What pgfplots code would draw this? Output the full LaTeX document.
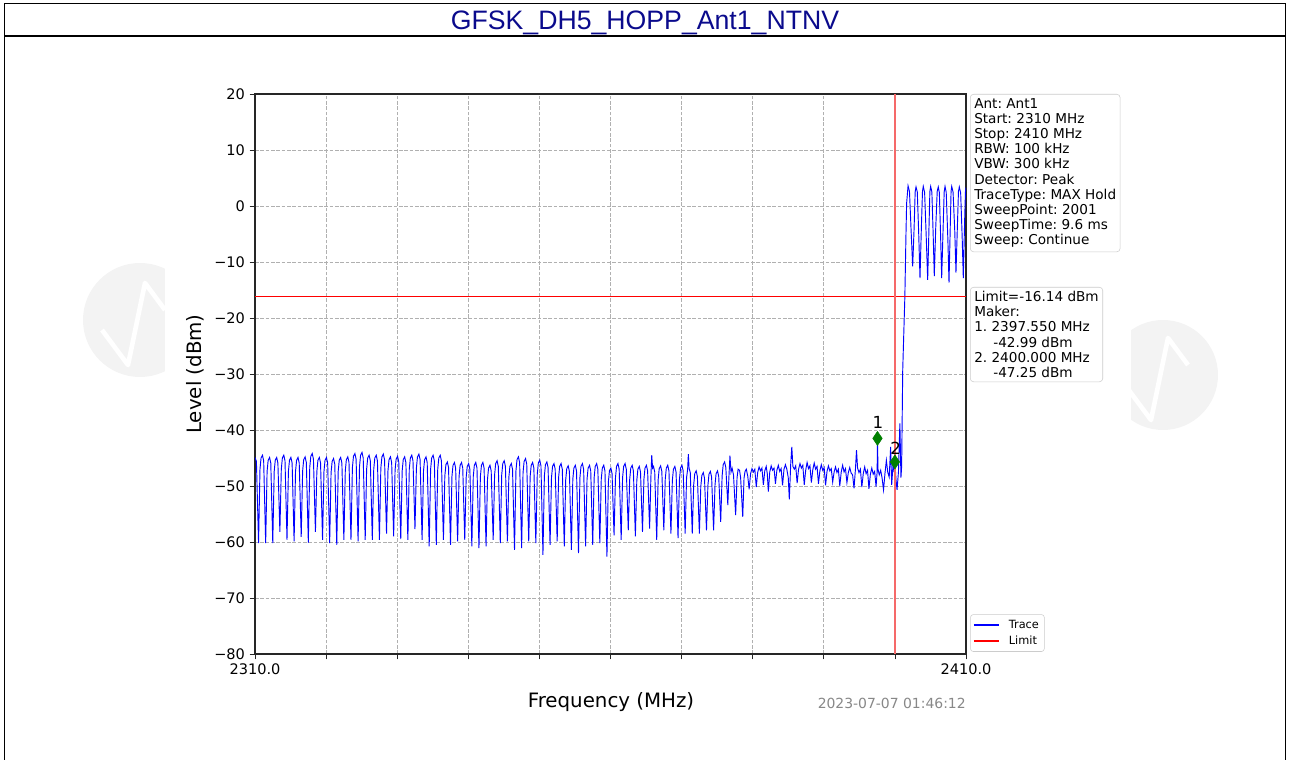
\documentclass[border=0pt]{standalone}
\usepackage{pgfplots}
\pgfplotsset{compat=1.18}
\usepackage{fontspec}
\setmainfont{DejaVu Sans}
\newfontfamily\arialfont{Liberation Sans}
\frenchspacing
\definecolor{titleblue}{RGB}{10,10,140}
\definecolor{mgreen}{RGB}{0,128,0}
\definecolor{boxgray}{RGB}{204,204,204}
\definecolor{gridgray}{RGB}{176,176,176}
\definecolor{wm}{RGB}{243,243,243}
\definecolor{dategray}{RGB}{136,136,136}
\definecolor{limred}{RGB}{255,0,0}
\definecolor{vred}{RGB}{245,105,105}
\definecolor{trblue}{RGB}{0,0,255}
\begin{document}
\begin{tikzpicture}
\useasboundingbox (0,0) rectangle (967.5pt,570pt);
% faint watermarks
\fill[wm] (105pt,330pt) circle (42.75pt);
\fill[wm] (872.25pt,288.75pt) circle (41.25pt);
\draw[white, line width=3.5pt, line join=round] (76.5pt,322.5pt) -- (96pt,296.25pt) -- (108.75pt,357.75pt) -- (123.75pt,337.5pt);
\draw[white, line width=3.5pt, line join=round] (843.75pt,281.25pt) -- (863.25pt,255pt) -- (876pt,316.5pt) -- (891pt,296.25pt);
\fill[white] (123.75pt,0pt) rectangle (848.25pt,540pt);
% frame
\draw[line width=1.3pt] (3.4pt,0pt) -- (3.4pt,567.4pt) -- (964.1pt,567.4pt) -- (964.1pt,0pt);
\draw[line width=1.3pt] (3.4pt,543pt) -- (964.1pt,543pt);
\node[font=\arialfont\fontsize{20}{24}\selectfont, text=titleblue, anchor=base] at (483.75pt,547.5pt) {GFSK\_DH5\_HOPP\_Ant1\_NTNV};
\begin{axis}[
  at={(191.25pt,79.5pt)}, anchor=south west,
  width=533.25pt, height=420pt, scale only axis,
  xmin=2310, xmax=2410, ymin=-80, ymax=20,
  xtick={2310,2320,...,2410},
  xticklabels={2310.0,,,,,,,,,,2410.0},
  ytick={-80,-70,...,20},
  yticklabels={−80,−70,−60,−50,−40,−30,−20,−10,0,10,20},
  tick pos=left, tick align=outside,
  major tick length=4pt,
  tick style={black!85, line width=0.6pt},
  xmajorgrids, ymajorgrids,
  grid style={gridgray, dash pattern=on 2.8pt off 1.2pt, line width=0.5pt},
  axis line style={black!85, line width=0.8pt},
  ticklabel style={font=\fontsize{10.9}{13}\selectfont},
  legend style={at={(1.006,0.004)}, anchor=south west, draw=boxgray, rounded corners=2pt,
    font=\fontsize{8.5}{10}\selectfont, inner sep=2pt, legend cell align=left,
    /tikz/every odd column/.append style={column sep=5pt}},
  legend image code/.code={\draw[#1] (0pt,0pt) -- (18.75pt,0pt);},
]
\addlegendimage{color=trblue, line width=1pt}
\addlegendentry{Trace}
\addlegendimage{color=limred, line width=1pt}
\addlegendentry{Limit}
\addplot[color=trblue, line width=0.7pt, forget plot] coordinates {
(2310.0,-44.9) (2310.2,-45.6)
(2310.5,-60.2) (2310.7,-47.0) (2310.85,-45.0) (2311.05,-44.5) (2311.22,-45.5)
(2311.5,-60.2) (2311.7,-47.4) (2311.85,-45.4) (2312.05,-44.9) (2312.22,-45.9)
(2312.5,-60.2) (2312.7,-47.4) (2312.85,-45.4) (2313.05,-44.9) (2313.22,-45.9)
(2313.5,-58.2) (2313.7,-47.0) (2313.85,-45.0) (2314.05,-44.5) (2314.22,-45.5)
(2314.5,-59.6) (2314.7,-47.4) (2314.85,-45.4) (2315.05,-44.9) (2315.22,-45.9)
(2315.5,-59.9) (2315.7,-47.4) (2315.85,-45.4) (2316.05,-44.9) (2316.22,-45.9)
(2316.5,-59.1) (2316.7,-47.3) (2316.85,-45.3) (2317.05,-44.8) (2317.22,-45.8)
(2317.5,-60.1) (2317.7,-46.7) (2317.85,-44.7) (2318.05,-44.2) (2318.22,-45.2)
(2318.5,-58.2) (2318.7,-47.4) (2318.85,-45.4) (2319.05,-44.9) (2319.22,-45.9)
(2319.5,-59.6) (2319.7,-47.4) (2319.85,-45.4) (2320.05,-44.9) (2320.22,-45.9)
(2320.5,-60.2) (2320.7,-47.6) (2320.85,-45.6) (2321.05,-45.1) (2321.22,-46.1)
(2321.5,-60.5) (2321.7,-47.4) (2321.85,-45.4) (2322.05,-44.9) (2322.22,-45.9)
(2322.5,-59.6) (2322.7,-47.3) (2322.85,-45.3) (2323.05,-44.8) (2323.22,-45.8)
(2323.5,-59.6) (2323.7,-46.7) (2323.85,-44.7) (2324.05,-44.2) (2324.22,-45.2)
(2324.5,-59.9) (2324.7,-46.5) (2324.85,-44.5) (2325.05,-44.0) (2325.22,-45.0)
(2325.5,-59.6) (2325.7,-47.0) (2325.85,-45.0) (2326.05,-44.5) (2326.22,-45.5)
(2326.5,-59.6) (2326.7,-47.0) (2326.85,-45.0) (2327.05,-44.5) (2327.22,-45.5)
(2327.5,-59.6) (2327.7,-46.8) (2327.85,-44.8) (2328.05,-44.3) (2328.22,-45.3)
(2328.5,-58.5) (2328.7,-47.3) (2328.85,-45.3) (2329.05,-44.8) (2329.22,-45.8)
(2329.5,-59.0) (2329.7,-47.2) (2329.85,-45.2) (2330.05,-44.7) (2330.22,-45.7)
(2330.5,-59.5) (2330.7,-47.3) (2330.85,-45.3) (2331.05,-44.8) (2331.22,-45.8)
(2331.5,-59.6) (2331.7,-47.0) (2331.85,-45.0) (2332.05,-44.5) (2332.22,-45.5)
(2332.5,-57.7) (2332.7,-46.8) (2332.85,-44.8) (2333.05,-44.3) (2333.22,-45.3)
(2333.5,-59.6) (2333.7,-47.3) (2333.85,-45.3) (2334.05,-44.8) (2334.22,-45.8)
(2334.5,-60.8) (2334.7,-47.0) (2334.85,-45.0) (2335.05,-44.5) (2335.22,-45.5)
(2335.5,-60.5) (2335.7,-47.0) (2335.85,-45.0) (2336.05,-44.5) (2336.22,-45.5)
(2336.5,-59.6) (2336.7,-48.2) (2336.85,-46.2) (2337.05,-45.7) (2337.22,-46.7)
(2337.5,-60.5) (2337.7,-48.3) (2337.85,-46.3) (2338.05,-45.8) (2338.22,-46.8)
(2338.5,-59.9) (2338.7,-48.3) (2338.85,-46.3) (2339.05,-45.8) (2339.22,-46.8)
(2339.5,-59.6) (2339.7,-48.5) (2339.85,-46.5) (2340.05,-46.0) (2340.22,-47.0)
(2340.5,-60.8) (2340.7,-48.3) (2340.85,-46.3) (2341.05,-45.8) (2341.22,-46.8)
(2341.5,-61.1) (2341.7,-48.3) (2341.85,-46.3) (2342.05,-45.8) (2342.22,-46.8)
(2342.5,-60.8) (2342.7,-48.8) (2342.85,-46.8) (2343.05,-46.3) (2343.22,-47.3)
(2343.5,-59.6) (2343.7,-48.0) (2343.85,-46.0) (2344.05,-45.5) (2344.22,-46.5)
(2344.5,-60.2) (2344.7,-48.0) (2344.85,-46.0) (2345.05,-45.5) (2345.22,-46.5)
(2345.5,-59.9) (2345.7,-48.5) (2345.85,-46.5) (2346.05,-46.0) (2346.22,-47.0)
(2346.5,-61.4) (2346.7,-47.3) (2346.85,-45.3) (2347.05,-44.8) (2347.22,-45.8)
(2347.5,-61.1) (2347.7,-47.6) (2347.85,-45.6) (2348.05,-45.1) (2348.22,-46.1)
(2348.5,-59.9) (2348.7,-48.3) (2348.85,-46.3) (2349.05,-45.8) (2349.22,-46.8)
(2349.5,-60.2) (2349.7,-47.9) (2349.85,-45.9) (2350.05,-45.4) (2350.22,-46.4)
(2350.5,-62.3) (2350.7,-48.2) (2350.85,-46.2) (2351.05,-45.7) (2351.22,-46.7)
(2351.5,-60.5) (2351.7,-48.5) (2351.85,-46.5) (2352.05,-46.0) (2352.22,-47.0)
(2352.5,-59.9) (2352.7,-48.5) (2352.85,-46.5) (2353.05,-46.0) (2353.22,-47.0)
(2353.5,-60.8) (2353.7,-48.9) (2353.85,-46.9) (2354.05,-46.4) (2354.22,-47.4)
(2354.5,-61.4) (2354.7,-48.8) (2354.85,-46.8) (2355.05,-46.3) (2355.22,-47.3)
(2355.5,-62.0) (2355.7,-48.5) (2355.85,-46.5) (2356.05,-46.0) (2356.22,-47.0)
(2356.5,-60.8) (2356.7,-48.8) (2356.85,-46.8) (2357.05,-46.3) (2357.22,-47.3)
(2357.5,-60.5) (2357.7,-48.5) (2357.85,-46.5) (2358.05,-46.0) (2358.22,-47.0)
(2358.5,-60.2) (2358.7,-48.8) (2358.85,-46.8) (2359.05,-46.3) (2359.22,-47.3)
(2359.5,-62.6) (2359.7,-49.3) (2359.85,-47.3) (2360.05,-46.8) (2360.22,-47.8)
(2360.5,-58.8) (2360.7,-48.5) (2360.85,-46.5) (2361.05,-46.0) (2361.22,-47.0)
(2361.5,-59.6) (2361.7,-48.5) (2361.85,-46.5) (2362.05,-46.0) (2362.22,-47.0)
(2362.5,-57.9) (2362.7,-48.8) (2362.85,-46.8) (2363.05,-46.3) (2363.22,-47.3)
(2363.5,-59.0) (2363.7,-49.0) (2363.85,-47.0) (2364.05,-46.5) (2364.22,-47.5)
(2364.5,-58.2) (2364.7,-48.8) (2364.85,-46.8) (2365.05,-46.3) (2365.22,-47.3)
(2365.5,-57.6) (2365.68,-48.5) (2365.8,-44.5) (2365.92,-46.8) (2366.05,-46.5) (2366.22,-47.5)
(2366.5,-59.6) (2366.7,-48.9) (2366.85,-46.9) (2367.05,-46.4) (2367.22,-47.4)
(2367.5,-57.9) (2367.7,-48.8) (2367.85,-46.8) (2368.05,-46.3) (2368.22,-47.3)
(2368.5,-58.5) (2368.7,-49.0) (2368.85,-47.0) (2369.05,-46.5) (2369.22,-47.5)
(2369.5,-59.3) (2369.7,-48.8) (2369.85,-46.8) (2370.05,-46.3) (2370.22,-47.3)
(2370.5,-58.5) (2370.7,-48.5) (2370.85,-47.0) (2370.95,-44.3) (2371.05,-46.8) (2371.22,-47.6)
(2371.5,-58.5) (2371.7,-49.8) (2371.85,-47.8) (2372.05,-47.3) (2372.22,-48.3)
(2372.5,-58.5) (2372.7,-50.1) (2372.85,-48.1) (2373.05,-47.6) (2373.22,-48.6)
(2373.5,-57.9) (2373.7,-49.9) (2373.85,-47.9) (2374.05,-47.4) (2374.22,-48.4)
(2374.5,-57.9) (2374.7,-49.8) (2374.85,-47.8) (2375.05,-47.3) (2375.22,-48.3)
(2375.5,-56.4) (2375.7,-48.2) (2375.85,-46.2) (2376.05,-45.7) (2376.22,-46.7)
(2376.5,-53.4) (2376.65,-48.5) (2376.8,-44.6) (2376.95,-47.5) (2377.1,-46.8) (2377.3,-48.0)
(2377.6,-55.2) (2377.8,-48.5) (2377.95,-47.0) (2378.15,-47.2) (2378.3,-48.5)
(2378.6,-55.5) (2378.78,-48.6) (2378.92,-47.4) (2379.10,-47.0) (2379.30,-48.2)
(2379.50,-50.6) (2379.70,-47.8) (2379.90,-46.9) (2380.10,-47.5) (2380.30,-47.0)
(2380.50,-50.2) (2380.70,-47.6) (2380.90,-46.6) (2381.10,-47.3) (2381.30,-46.8)
(2381.50,-49.8) (2381.70,-47.3) (2381.90,-46.5) (2382.05,-47.8)
(2382.20,-51.0) (2382.40,-47.5) (2382.60,-46.4) (2382.80,-47.2) (2383.00,-46.8)
(2383.20,-49.6) (2383.40,-47.2) (2383.60,-46.3) (2383.80,-47.4) (2384.00,-46.9)
(2384.20,-49.9) (2384.40,-47.0) (2384.60,-46.2) (2384.80,-47.0) (2385.00,-48.5)
(2385.15,-52.4) (2385.35,-46.0) (2385.50,-43.0) (2385.65,-46.5) (2385.85,-47.0) (2386.05,-46.4)
(2386.25,-49.5) (2386.45,-47.0) (2386.65,-46.0) (2386.85,-46.8) (2387.05,-46.3)
(2387.25,-49.8) (2387.45,-47.2) (2387.65,-45.8) (2387.85,-46.9) (2388.05,-46.4)
(2388.25,-49.4) (2388.45,-47.1) (2388.65,-45.9) (2388.85,-47.0) (2389.05,-46.5)
(2389.25,-49.6) (2389.45,-47.3) (2389.65,-46.2) (2389.85,-47.2) (2390.05,-46.7)
(2390.25,-49.9) (2390.45,-47.4) (2390.65,-46.4) (2390.85,-47.3) (2391.05,-46.9)
(2391.25,-49.3) (2391.45,-47.5) (2391.65,-46.6) (2391.85,-47.6) (2392.05,-47.0)
(2392.25,-50.0) (2392.45,-47.5) (2392.65,-46.3) (2392.85,-47.5) (2393.05,-46.9)
(2393.25,-49.4) (2393.45,-47.6) (2393.65,-46.7) (2393.85,-47.7) (2394.05,-48.0)
(2394.25,-50.4) (2394.45,-47.0) (2394.60,-43.6) (2394.75,-46.8) (2394.95,-47.6) (2395.15,-47.0)
(2395.35,-50.2) (2395.55,-47.8) (2395.75,-46.6) (2395.95,-47.8) (2396.15,-47.2)
(2396.35,-50.5) (2396.55,-47.9) (2396.75,-46.8) (2396.95,-47.9) (2397.15,-47.4)
(2397.35,-50.1) (2397.50,-47.5) (2397.55,-41.4) (2397.62,-47.0) (2397.80,-48.0) (2398.00,-47.2) (2398.20,-48.6)
(2398.40,-50.7) (2398.60,-47.8) (2398.80,-45.4) (2399.00,-47.6) (2399.20,-48.4)
(2399.40,-43.0) (2399.55,-49.8) (2399.75,-46.0) (2399.90,-47.5) (2400.00,-45.7)
(2400.15,-48.8) (2400.30,-50.7) (2400.50,-47.5) (2400.70,-38.8) (2400.85,-48.5) (2400.95,-46.5)
(2401.10,-29.3) (2401.40,-16.2) (2401.55,-5.5) (2401.65,0.5) (2401.85,3.6)
(2402.05,2.6) (2402.30,-5.0) (2402.50,-10.8) (2402.70,-4.0) (2402.85,2.5)
(2402.97,3.4) (2403.15,2.5) (2403.35,-5.0) (2403.53,-12.9) (2403.72,-4.0) (2403.88,2.6)
(2403.99,3.5) (2404.18,2.4) (2404.42,-6.0) (2404.61,-13.2) (2404.78,-4.5) (2404.92,2.6)
(2405.03,3.5) (2405.20,2.5) (2405.38,-5.0) (2405.54,-12.5) (2405.74,-4.0) (2405.95,2.6)
(2406.10,3.4) (2406.25,2.4) (2406.42,-5.0) (2406.58,-12.9) (2406.78,-4.0) (2406.93,2.5)
(2407.05,3.5) (2407.22,2.4) (2407.45,-6.0) (2407.61,-13.7) (2407.78,-4.0) (2407.90,2.6)
(2407.99,3.5) (2408.18,2.5) (2408.42,-4.5) (2408.59,-11.9) (2408.78,-4.0) (2408.94,2.6)
(2409.06,3.4) (2409.25,2.3) (2409.46,-5.5) (2409.62,-12.9) (2409.80,-3.0) (2409.92,2.5)
(2410.00,3.3)
};
\addplot[color=limred, line width=0.8pt, forget plot] coordinates {(2310,-16.14) (2410,-16.14)};
\addplot[color=vred, line width=1.1pt, forget plot] coordinates {(2400,-80) (2400,20)};
\addplot[only marks, mark=diamond*, mark size=5.25pt, color=mgreen, mark options={xscale=0.9}, forget plot] coordinates {(2397.55,-41.5) (2400,-45.7)};
\node[font=\fontsize{12.5}{14}\selectfont] at (axis cs:2397.6,-38.7) {1};
\node[font=\fontsize{12.5}{14}\selectfont] at (axis cs:2400.1,-43.3) {2};
\end{axis}
% axis labels
\node[font=\fontsize{14.85}{17}\selectfont, rotate=90] at (146.25pt,289.5pt) {Level (dBm)};
\node[font=\fontsize{14.85}{17}\selectfont] at (458.25pt,43.5pt) {Frequency (MHz)};
\node[font=\fontsize{10.45}{12}\selectfont, text=dategray, anchor=east, inner sep=0pt] at (724.5pt,42.75pt) {2023-07-07 01:46:12};
% info boxes
\node[anchor=north west, draw=boxgray, rounded corners=2.5pt, fill=white, align=left, inner sep=3pt,
  font=\fontsize{10.2}{11.4}\selectfont] at (727.5pt,499.5pt)
  {Ant: Ant1\\Start: 2310 MHz\\Stop: 2410 MHz\\RBW: 100 kHz\\VBW: 300 kHz\\Detector: Peak\\TraceType: MAX Hold\\SweepPoint: 2001\\SweepTime: 9.6 ms\\Sweep: Continue};
\node[anchor=north west, draw=boxgray, rounded corners=2.5pt, fill=white, align=left, inner sep=3pt,
  font=\fontsize{10.2}{11.4}\selectfont] at (727.5pt,354.75pt)
  {Limit=-16.14 dBm\\Maker:\\1. 2397.550 MHz\\\hspace*{14.3pt}-42.99 dBm\\2. 2400.000 MHz\\\hspace*{14.3pt}-47.25 dBm};
\end{tikzpicture}
\end{document}
